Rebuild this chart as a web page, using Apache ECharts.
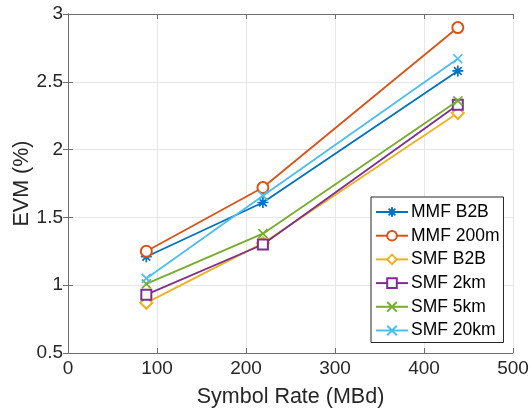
<!DOCTYPE html>
<html>
<head>
<meta charset="utf-8">
<script src="https://cdn.jsdelivr.net/npm/echarts@6/dist/echarts.min.js"></script>
<style>
  html, body { margin: 0; padding: 0; background: #fff; }
  #chart { width: 530px; height: 414px; }
</style>
</head>
<body>
<div id="chart"></div>
<script>
// symbol rate (MBd)
var symbolRate = [88, 219, 438];
// EVM (%) per setup
var mmfB2B = [1.21, 1.61, 2.58];
var mmf200m = [1.25, 1.72, 2.90];
var smfB2B = [0.87, 1.31, 2.27];
var smf2km = [0.93, 1.30, 2.33];
var smf5km = [1.01, 1.38, 2.36];
var smf20km = [1.05, 1.66, 2.67];

var names = ["MMF B2B", "MMF 200m", "SMF B2B", "SMF 2km", "SMF 5km", "SMF 20km"];
var values = [mmfB2B, mmf200m, smfB2B, smf2km, smf5km, smf20km];
var colors = ["#0072BD", "#D95319", "#EDB120", "#7E2F8E", "#77AC30", "#4DBEEE"];

var asterisk = "path://M0,-10L0,10M-10,0L10,0M-7,-7L7,7M-7,7L7,-7";
var cross = "path://M-10,-10L10,10M-10,10L10,-10";
var symbols = [asterisk, "emptyCircle", "emptyDiamond", "emptyRect", cross, cross];
var sizes = [11, 11, 12, 10, 9, 9];

var font = "Liberation Sans, Arial, Helvetica, sans-serif";
var textColor = "#262626";
var boxColor = "#6e6e6e";

function pairs(ys) {
  return ys.map(function (y, i) { return [symbolRate[i], y]; });
}

var series = names.map(function (n, i) {
  return {
    name: n,
    type: "line",
    data: pairs(values[i]),
    symbol: symbols[i],
    symbolSize: sizes[i],
    lineStyle: { color: colors[i], width: 1.8 },
    itemStyle: { color: colors[i], borderColor: colors[i], borderWidth: 1.7 },
    emphasis: { disabled: true },
    z: 3 + i
  };
});

var chart = echarts.init(document.getElementById("chart"));
chart.setOption({
  animation: false,
  grid: { left: 68, right: 17, top: 14, bottom: 61, outerBoundsMode: "none", containLabel: false },
  legend: {
    orient: "vertical",
    left: 371,
    top: 197,
    padding: [5, 4, 2, 4],
    itemWidth: 32,
    itemHeight: 12,
    itemGap: 3.7,
    backgroundColor: "#fff",
    borderColor: textColor,
    borderWidth: 1,
    borderRadius: 0,
    textStyle: { fontFamily: font, fontSize: 17.5, color: "#000", lineHeight: 20, padding: [0, 0, 0, -2] },
    data: names
  },
  xAxis: [
    {
      type: "value",
      min: 0, max: 500, interval: 100,
      name: "Symbol Rate (MBd)",
      nameLocation: "middle",
      nameGap: 33,
      nameMoveOverlap: false,
      nameTextStyle: { fontFamily: font, fontSize: 21.5, color: textColor },
      axisLine: { show: true, lineStyle: { color: boxColor, width: 1 } },
      axisTick: { show: true, inside: true, length: 5, lineStyle: { color: boxColor } },
      axisLabel: { fontFamily: font, fontSize: 19, color: textColor, margin: 6 },
      splitLine: { show: true, lineStyle: { color: "#e6e6e6", width: 1 } }
    },
    {
      type: "value",
      position: "top",
      min: 0, max: 500, interval: 100,
      axisLine: { show: true, lineStyle: { color: boxColor, width: 1 } },
      axisTick: { show: true, inside: true, length: 5, lineStyle: { color: boxColor } },
      axisLabel: { show: false },
      splitLine: { show: false }
    }
  ],
  yAxis: [
    {
      type: "value",
      min: 0.5, max: 3, interval: 0.5,
      name: "EVM (%)",
      nameLocation: "middle",
      nameGap: 35,
      nameMoveOverlap: false,
      nameTextStyle: { fontFamily: font, fontSize: 21.5, color: textColor },
      axisLine: { show: true, lineStyle: { color: boxColor, width: 1 } },
      axisTick: { show: true, inside: true, length: 5, lineStyle: { color: boxColor } },
      axisLabel: { fontFamily: font, fontSize: 19, color: textColor, margin: 5 },
      splitLine: { show: true, lineStyle: { color: "#e6e6e6", width: 1 } }
    },
    {
      type: "value",
      position: "right",
      min: 0.5, max: 3, interval: 0.5,
      axisLine: { show: true, lineStyle: { color: boxColor, width: 1 } },
      axisTick: { show: true, inside: true, length: 5, lineStyle: { color: boxColor } },
      axisLabel: { show: false },
      splitLine: { show: false }
    }
  ],
  series: series
});
</script>
</body>
</html>
